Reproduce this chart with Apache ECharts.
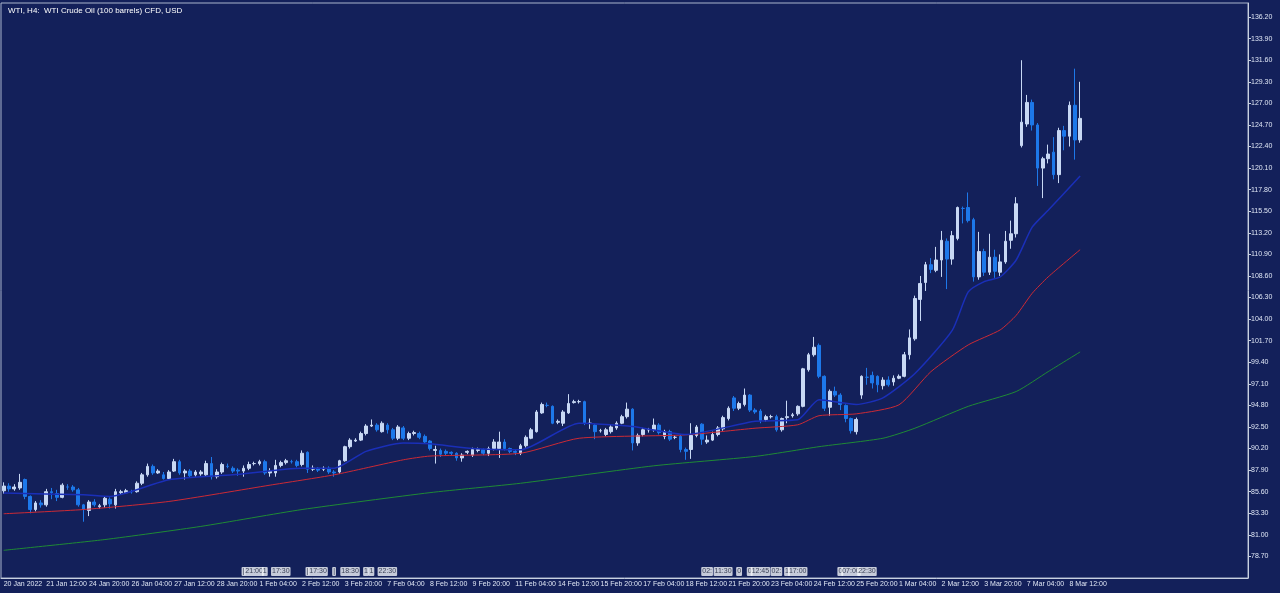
<!DOCTYPE html>
<html>
<head>
<meta charset="utf-8">
<script src="https://cdn.jsdelivr.net/npm/echarts@6/dist/echarts.min.js"></script>
<style>
  html, body {margin: 0; padding: 0; background: #13205a;}
  #chart {width: 1280px; height: 593px;}
</style>
</head>
<body>
<div id="chart"></div>
<script>
// H4 candles: [open, close, low, high]
const candles = [
  [85.7,86.2,85.4,86.6],[86.2,85.9,85.6,86.5],[85.9,86.1,85.7,86.4],[86.0,86.6,85.8,87.5],[86.9,85.1,84.8,87.0],
  [85.1,83.7,83.3,85.2],[83.7,84.4,83.5,84.6],[84.4,84.2,83.9,84.7],[84.2,85.6,84.0,85.9],[85.6,85.5,84.8,86.0],
  [85.4,85.0,84.6,85.8],[85.0,86.3,84.9,86.5],[86.1,86.1,85.8,86.4],[86.1,85.8,85.6,86.3],[85.8,84.2,84.0,86.0],
  [84.2,83.7,82.4,84.3],[83.6,84.5,83.0,84.7],[84.5,84.2,84.0,84.8],[84.0,84.1,83.8,84.3],[84.2,84.9,83.9,85.1],
  [84.8,84.3,83.8,85.0],[84.2,85.6,83.8,85.9],[85.5,85.6,85.3,85.8],[85.5,85.7,85.4,85.9],[85.6,85.6,85.4,85.8],
  [85.6,86.5,85.5,86.7],[86.5,87.4,86.3,87.6],[87.4,88.3,87.2,88.6],[88.3,87.6,87.4,88.5],[87.6,87.8,87.5,88.0],
  [87.4,87.0,86.9,87.7],[87.0,87.7,86.9,87.9],[87.8,88.8,87.7,89.1],[88.8,87.6,87.4,89.0],[87.6,87.8,86.9,88.0],
  [87.8,87.3,87.1,88.0],[87.4,87.7,87.2,87.9],[87.5,87.7,87.3,87.9],[87.4,88.6,87.2,88.9],[88.6,87.2,86.9,89.3],
  [87.2,87.7,87.0,88.0],[87.7,88.5,87.5,88.7],[88.3,88.3,88.1,88.6],[88.1,87.8,87.6,88.3],[87.9,87.8,87.3,88.1],
  [87.8,88.1,87.2,88.4],[88.1,88.5,87.9,88.8],[88.6,88.6,88.4,88.8],[88.6,88.8,88.4,89.0],[88.8,87.6,87.4,89.0],
  [87.6,87.8,87.2,88.1],[87.6,88.4,87.2,89.0],[88.4,88.7,88.2,88.9],[88.7,88.9,88.5,89.1],[88.8,88.8,88.6,89.0],
  [88.8,88.4,88.2,89.0],[88.5,89.7,88.3,90.0],[89.8,88.0,87.6,89.9],[88.0,88.1,87.8,88.4],[88.1,87.9,87.7,88.2],
  [88.0,88.1,87.8,88.3],[88.1,87.7,87.5,88.3],[87.7,87.6,87.2,87.9],[87.7,88.9,87.5,89.0],[88.9,90.4,88.8,90.5],
  [90.4,91.1,90.2,91.3],[91.0,91.1,90.9,91.3],[91.1,91.8,91.0,92.0],[91.8,92.6,91.6,92.8],[92.6,92.7,92.5,93.3],
  [92.7,92.2,92.0,92.9],[92.0,92.9,91.9,93.1],[92.7,92.2,91.8,92.9],[92.2,91.3,91.1,92.4],[91.3,92.5,91.1,92.7],
  [92.4,91.3,91.1,92.6],[91.3,91.8,91.1,92.0],[91.8,91.9,91.6,92.1],[91.8,91.4,91.2,92.0],[91.5,90.9,90.7,91.7],
  [91.0,90.2,90.0,91.1],[90.0,90.1,88.6,90.5],[90.0,89.6,89.3,90.2],[89.9,89.7,89.5,90.1],[89.8,89.7,89.5,89.9],
  [89.7,89.2,88.9,89.8],[89.2,89.5,88.8,89.7],[89.8,89.9,89.6,90.0],[89.5,90.1,89.3,90.3],[90.0,90.1,89.8,90.3],
  [90.1,89.7,89.5,90.2],[89.7,90.2,89.4,90.4],[90.2,90.9,90.0,91.2],[90.2,90.9,89.2,92.0],[90.9,90.2,90.0,91.2],
  [90.2,89.9,89.7,90.3],[89.9,89.8,89.5,90.1],[89.7,90.5,89.5,90.7],[90.5,91.4,90.3,91.6],[91.3,92.2,91.2,92.4],
  [92.0,94.1,91.9,94.3],[94.0,94.9,93.9,95.1],[94.8,94.8,94.6,95.1],[94.7,92.9,92.8,94.8],[93.0,93.1,92.8,93.3],
  [92.9,94.1,92.6,94.3],[94.0,95.0,93.9,96.0],[95.1,95.2,95.0,95.4],[95.2,95.2,95.0,95.4],[95.2,92.9,92.7,95.3],
  [92.9,92.9,92.3,93.4],[92.7,92.0,91.2,92.8],[92.1,92.1,91.9,92.3],[91.7,92.2,91.5,92.4],[92.0,92.5,91.8,92.7],
  [92.4,92.9,92.2,93.1],[92.9,93.6,92.8,93.8],[93.6,94.4,93.4,95.1],[94.4,90.8,90.0,94.5],[90.8,91.6,90.5,91.8],
  [91.7,92.2,91.5,92.4],[92.2,92.2,91.9,92.4],[92.2,92.7,92.0,93.4],[92.7,91.9,91.7,92.9],[91.5,92.0,91.2,92.2],
  [92.0,91.2,91.0,92.2],[91.4,91.4,91.2,91.6],[91.5,90.1,89.8,91.7],[90.1,89.9,89.0,90.3],[90.1,91.6,89.1,92.9],
  [91.6,92.5,91.4,92.7],[92.8,91.2,90.6,92.9],[90.9,91.1,90.7,91.6],[91.1,91.7,91.0,92.0],[91.7,92.4,91.5,92.6],
  [92.3,93.5,92.1,93.7],[93.4,94.5,93.2,94.7],[95.6,94.5,94.2,95.8],[94.5,95.0,94.3,95.2],[94.9,95.9,94.7,96.6],
  [95.9,94.3,94.1,96.0],[94.3,94.1,93.9,94.5],[94.2,93.2,92.9,94.4],[93.3,93.6,93.1,93.8],[93.6,93.6,93.4,93.8],
  [93.6,92.2,92.0,93.8],[92.2,93.4,92.0,93.5],[93.5,93.6,92.9,95.3],[93.7,93.8,93.5,94.0],[93.9,94.7,93.7,94.8],
  [94.7,98.7,94.6,98.8],[98.6,100.2,98.4,100.4],[100.2,101.0,100.0,102.1],[101.2,97.9,97.7,101.4],[97.9,94.5,94.2,98.0],
  [94.6,96.3,93.7,96.5],[96.3,95.9,95.7,96.8],[95.9,94.9,94.3,96.1],[94.8,93.4,93.0,94.9],[93.4,92.1,91.8,93.5],
  [92.0,93.3,91.7,93.5],[95.9,97.9,95.5,98.0],[97.8,97.8,97.0,98.8],[98.0,97.2,96.6,98.4],[97.9,97.0,96.2,98.0],
  [96.9,97.5,96.5,97.8],[97.5,97.0,96.8,97.9],[97.3,97.7,96.9,98.0],[97.7,97.9,97.6,98.1],[97.9,100.2,97.8,100.5],
  [100.2,102.0,99.7,102.9],[101.9,106.2,101.7,106.5],[106.1,107.8,103.8,108.6],[107.9,109.8,107.0,110.1],[109.8,109.3,108.9,110.5],
  [109.2,110.3,109.0,111.7],[110.3,112.4,108.5,113.4],[112.3,110.4,107.2,112.6],[110.4,112.9,109.8,113.4],[112.6,115.9,112.4,116.0],
  [115.8,115.8,114.2,116.0],[115.9,114.5,114.3,117.5],[114.6,108.5,108.0,114.8],[108.5,111.2,108.2,113.3],[111.2,109.0,108.6,111.5],
  [109.0,110.6,108.7,113.1],[110.6,109.1,108.4,111.4],[109.0,110.1,108.6,110.9],[110.1,112.3,109.9,113.4],[112.4,113.1,111.5,114.5],
  [113.1,116.3,112.7,117.0],[122.5,125.0,122.3,131.6],[124.8,127.1,124.5,127.9],[127.1,124.7,124.1,127.4],[124.7,120.1,118.2,124.9],
  [120.1,121.1,116.9,121.3],[121.1,121.6,120.6,122.6],[121.8,119.4,118.9,123.4],[119.4,124.1,118.5,124.4],[124.1,123.5,122.0,124.6],
  [123.5,126.8,122.4,127.2],[126.8,123.1,121.0,130.7],[123.1,125.4,122.8,129.3]
];

// moving averages read at some bars: [barIndex, value]
const maFast = [[0,85.45],[15,85.27],[20,85.1],[31,86.87],[43,87.4],[56,88.1],[62,88.1],[68,89.9],[75,90.8],[80,90.7],
  [88,90.2],[97,90.07],[108,92.9],[118,92.55],[128,91.7],[141,93.1],[149,93.26],[153,95.4],[160,94.9],[165,95.6],
  [171,98.2],[178,102.8],[181,106.9],[184,108.0],[187,108.5],[190,110.3],[193,113.8],[196,115.6],[202,119.25]];
const maMid = [[0,83.25],[15,83.7],[31,84.56],[50,86.3],[62,87.4],[75,89.0],[80,89.4],[97,89.7],[108,91.3],[128,91.66],
  [141,92.37],[149,92.73],[153,93.7],[160,93.9],[168,94.86],[174,98.4],[181,101.25],[187,102.85],[190,104.4],
  [193,106.75],[196,108.5],[202,111.4]];
const maSlow = [[0,79.35],[19,80.5],[37,81.9],[56,83.7],[80,85.5],[97,86.5],[122,88.36],[141,89.36],[153,90.4],
  [165,91.3],[171,92.37],[181,94.7],[190,96.28],[196,98.4],[202,100.5]];

// x labels, one every 8 bars
const timeLabels = ["20 Jan 2022","21 Jan 12:00","24 Jan 20:00","26 Jan 04:00","27 Jan 12:00","28 Jan 20:00",
  "1 Feb 04:00","2 Feb 12:00","3 Feb 20:00","7 Feb 04:00","8 Feb 12:00","9 Feb 20:00","11 Feb 04:00",
  "14 Feb 12:00","15 Feb 20:00","17 Feb 04:00","18 Feb 12:00","21 Feb 20:00","23 Feb 04:00","24 Feb 12:00",
  "25 Feb 20:00","1 Mar 04:00","2 Mar 12:00","3 Mar 20:00","7 Mar 04:00","8 Mar 12:00"];

// calendar event tags: [barIndex, text]
const events = [[45,"|"],[47,"21:00"],[49,"1"],[52,"17:30"],[57,"|"],[59,"17:30"],[62,"|"],[65,"18:30"],[68,"1"],
  [69,"1"],[72,"22:30"],[132,"02:"],[135,"11:30"],[138,"0"],[140,"0"],[142,"12:45"],[145,"02:"],[147,"1"],
  [149,"17:00"],[157,"0"],[159,"07:00"],[162,"22:30"]];

const totalSlots = 234;
const categories = [];
for (let i = 0; i < totalSlots; i++) {
    categories.push(i % 8 === 0 && timeLabels[i / 8] ? timeLabels[i / 8] : '');
}
const toLine = pts => {
    const arr = new Array(candles.length).fill(null);
    pts.forEach(([i, v]) => arr[i] = v);
    return arr;
};

const chart = echarts.init(document.getElementById('chart'));
const txt = '#dfe6f5';
const font = 'Liberation Sans';
chart.setOption({
    backgroundColor: '#13205a',
    animation: false,
    title: {
        text: 'WTI, H4:  WTI Crude Oil (100 barrels) CFD, USD',
        left: 3, top: 2,
        textStyle: {color: '#ffffff', fontSize: 8, fontWeight: 'normal', fontFamily: font}
    },
    grid: {left: 1, right: 32, top: 3, bottom: 15, show: true, borderColor: '#aab4cc', borderWidth: 1},
    xAxis: {
        type: 'category', data: categories, boundaryGap: true,
        axisLine: {lineStyle: {color: '#c8d0e0'}},
        axisTick: {interval: (i) => i % 8 === 0, length: 3, lineStyle: {color: '#c8d0e0'}},
        axisLabel: {
            interval: (i) => i % 8 === 0, align: 'left', margin: 3, showMinLabel: true,
            hideOverlap: false,
            color: txt, fontSize: 7, fontFamily: font
        },
        splitLine: {show: false}
    },
    yAxis: [
        {type: 'value', position: 'right', min: 76.4, max: 137.7, show: false, scale: true},
        {
            // display scale shifted by 0.5 so ticks land on 78.70, 81.00 ...
            type: 'value', position: 'right', min: 75.9, max: 137.2, interval: 2.3,
            axisLine: {show: true, lineStyle: {color: '#c8d0e0'}},
            axisTick: {show: true, length: 3, inside: false, lineStyle: {color: '#c8d0e0'}},
            axisLabel: {
                showMinLabel: false, showMaxLabel: false, margin: 3,
                color: txt, fontSize: 7, fontFamily: font,
                formatter: v => (v + 0.5).toFixed(2)
            },
            splitLine: {show: false}
        }
    ],
    series: [
        {
            type: 'line', data: toLine(maSlow), connectNulls: true, smooth: 0.2, symbol: 'none',
            lineStyle: {color: '#1f8a35', width: 1}
        },
        {
            type: 'line', data: toLine(maMid), connectNulls: true, smooth: 0.2, symbol: 'none',
            lineStyle: {color: '#cc2a35', width: 1}
        },
        {
            type: 'line', data: toLine(maFast), connectNulls: true, smooth: 0.2, symbol: 'none',
            lineStyle: {color: '#1a2fb8', width: 1.5}
        },
        {
            type: 'candlestick', data: candles, barWidth: 3.2,
            itemStyle: {color: '#c8d8f4', color0: '#1d78ea', borderColor: '#c8d8f4', borderColor0: '#1d78ea', borderWidth: 1}
        },
        {
            type: 'scatter', symbolSize: 0,
            data: events.map(([i, t]) => ({value: [i, 77.1], name: t})),
            label: {
                show: true, formatter: p => p.name, position: 'inside',
                color: '#101830', fontSize: 7, fontFamily: font,
                backgroundColor: '#f4f6fa', padding: [1, 1], borderRadius: 1
            },
            silent: true
        }
    ]
});
</script>
</body>
</html>
